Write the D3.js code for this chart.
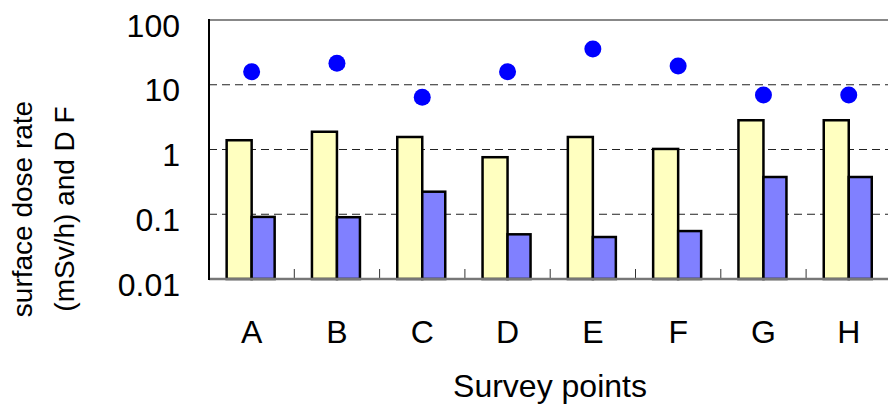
<!DOCTYPE html>
<html>
<head>
<meta charset="utf-8">
<script src="https://cdn.jsdelivr.net/npm/d3@7"></script>
<style>
  body { margin: 0; background: #fff; }
  svg text { font-family: "Liberation Sans", Arial, sans-serif; fill: #000; }
</style>
</head>
<body>
<svg id="chart" width="888" height="405"></svg>
<script>
// survey points and the three series
const points = ["A", "B", "C", "D", "E", "F", "G", "H"];
const doseRate = [1.39, 1.88, 1.56, 0.76, 1.56, 1.02, 2.83, 2.83];     // yellow bars
const doseRate2 = [0.091, 0.09, 0.223, 0.049, 0.0445, 0.055, 0.376, 0.376]; // blue bars
const dfValues = [15.9, 21.4, 6.4, 15.9, 35.6, 19.5, 6.95, 6.95];      // blue dots
const yTicks = [100, 10, 1, 0.1, 0.01];
const yTickLabels = ["100", "10", "1", "0.1", "0.01"];

const svg = d3.select("#chart");
const plotLeft = 209, plotTop = 20, plotBottom = 279, bandW = 85.3;

let x = d3.scaleBand().domain(points).range([plotLeft, plotLeft + bandW * points.length]).padding(0);
let y = d3.scaleLog().domain([0.01, 100]).range([plotBottom, plotTop]);

// dashed gridlines at 10, 1, 0.1
svg.append("g").selectAll("line")
    .data([10, 1, 0.1])
    .enter().append("line")
    .attr("x1", plotLeft).attr("x2", 888)
    .attr("y1", d => y(d)).attr("y2", d => y(d))
    .attr("stroke", "#222").attr("stroke-width", 1)
    .attr("stroke-dasharray", "8,5");

// top border
svg.append("line")
    .attr("x1", plotLeft).attr("x2", 888).attr("y1", y(100)).attr("y2", y(100))
    .attr("stroke", "#888").attr("stroke-width", 2);

// tick marks between categories
svg.append("g").selectAll("line")
    .data(points.slice(1))
    .enter().append("line")
    .attr("x1", d => x(d)).attr("x2", d => x(d))
    .attr("y1", plotBottom).attr("y2", plotBottom - 10)
    .attr("stroke", "#333").attr("stroke-width", 1);

let center = d => x(d) + x.bandwidth() / 2;

// yellow bars
svg.append("g").selectAll("rect")
    .data(points)
    .enter().append("rect")
    .attr("x", d => center(d) - 25)
    .attr("width", 25)
    .attr("y", (d, i) => y(doseRate[i]))
    .attr("height", (d, i) => y(0.01) - y(doseRate[i]))
    .attr("fill", "#FFFFC0").attr("stroke", "#000").attr("stroke-width", 2.5);

// blue bars
svg.append("g").selectAll("rect")
    .data(points)
    .enter().append("rect")
    .attr("x", d => center(d))
    .attr("width", 23)
    .attr("y", (d, i) => y(doseRate2[i]))
    .attr("height", (d, i) => y(0.01) - y(doseRate2[i]))
    .attr("fill", "#8080FF").attr("stroke", "#000").attr("stroke-width", 2.5);

// DF dots
svg.append("g").selectAll("circle")
    .data(points)
    .enter().append("circle")
    .attr("cx", d => center(d))
    .attr("cy", (d, i) => y(dfValues[i]))
    .attr("r", 8.5)
    .attr("fill", "#0000FF");

// bottom axis line
svg.append("line")
    .attr("x1", plotLeft).attr("x2", 888).attr("y1", plotBottom).attr("y2", plotBottom)
    .attr("stroke", "#777").attr("stroke-width", 2.5);

// left axis line
svg.append("line")
    .attr("x1", plotLeft).attr("x2", plotLeft).attr("y1", plotTop - 1).attr("y2", plotBottom + 1)
    .attr("stroke", "#000").attr("stroke-width", 2);

// y tick labels
svg.append("g").selectAll("text")
    .data(yTicks)
    .enter().append("text")
    .attr("x", 180)
    .attr("y", d => y(d) + 16.5)
    .attr("text-anchor", "end")
    .attr("font-size", 32)
    .text((d, i) => yTickLabels[i]);

// x labels
svg.append("g").selectAll("text")
    .data(points)
    .enter().append("text")
    .attr("x", d => center(d))
    .attr("y", 343)
    .attr("text-anchor", "middle")
    .attr("font-size", 32)
    .text(d => d);

svg.append("text")
    .attr("x", 550).attr("y", 397)
    .attr("text-anchor", "middle")
    .attr("font-size", 32)
    .text("Survey points");

// y title, two lines
let yt = svg.append("text")
    .attr("transform", "translate(32,209) rotate(-90)")
    .attr("text-anchor", "middle")
    .attr("font-size", 28);
yt.append("tspan").attr("x", 0).attr("y", 0).text("surface dose rate");
yt.append("tspan").attr("x", 0).attr("y", 42).text("(mSv/h) and D F");
</script>
</body>
</html>
